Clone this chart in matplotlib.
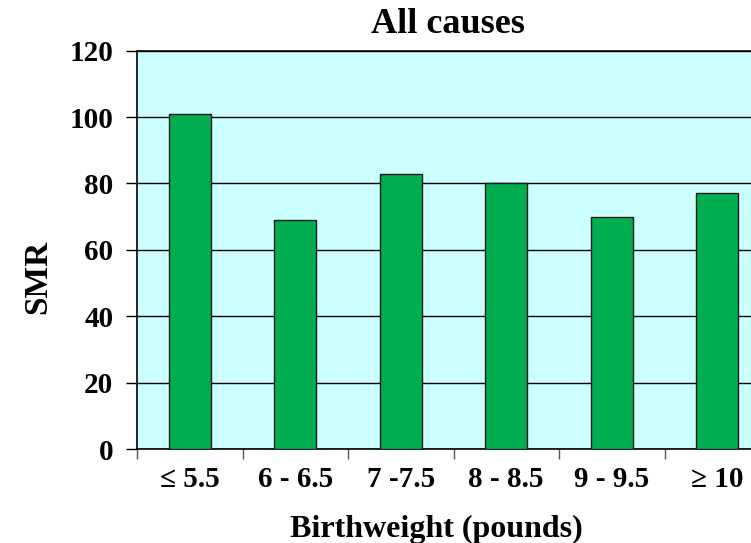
import matplotlib
matplotlib.use("Agg")
import matplotlib.pyplot as plt
import numpy as np

categories = ["\u2264 5.5", "6 - 6.5", "7 -7.5", "8 - 8.5", "9 - 9.5", "\u2265 10"]
smr = [101, 69, 83, 80, 70, 77]
yticks = [0, 20, 40, 60, 80, 100, 120]

plt.rcParams["font.family"] = ["Liberation Serif", "DejaVu Serif"]
plt.rcParams["font.weight"] = "bold"

W, H = 751, 543
fig = plt.figure(figsize=(W / 100, H / 100), dpi=100)
left, right, top, bottom = 137, 770, 50.7, 449
ax = fig.add_axes([left / W, (H - bottom) / H, (right - left) / W, (bottom - top) / H])
ax.set_facecolor("#CCFFFF")

x = np.arange(len(categories))
ax.set_axisbelow(True)
ax.yaxis.grid(True, color="black", linewidth=1.0)
ax.bar(x, smr, width=0.4, color="#00AD50", edgecolor="#1a1a1a", linewidth=1.0, zorder=3)

ax.set_xlim(-0.5, len(categories) - 0.5)
ax.set_ylim(0, 120)
ax.set_yticks(yticks)
ax.set_yticklabels([str(v) for v in yticks], fontsize=21, fontweight="bold")

# ticks at the category boundaries, labels centred between them
ax.set_xticks(np.arange(len(categories) + 1) - 0.5)
ax.set_xticklabels([])
ax.set_xticks(x, minor=True)
ax.set_xticklabels(categories, minor=True, fontsize=21, fontweight="bold")
ax.tick_params(axis="x", which="major", direction="out", length=7, width=1, color="#555555")
ax.tick_params(axis="x", which="minor", length=0, pad=12.5)
ax.tick_params(axis="y", direction="out", length=8, width=1, pad=9)

for s in ax.spines.values():
    s.set_color("black")
    s.set_linewidth(1.2)

fig.text(448 / W, 1 - 33 / H, "All causes", ha="center", va="baseline", fontsize=26, fontweight="bold")
fig.text(436 / W, 1 - 537 / H, "Birthweight (pounds)", ha="center", va="baseline", fontsize=23, fontweight="bold")
fig.text(38 / W, 1 - 277 / H, "SMR", ha="center", va="center", rotation=90, fontsize=24, fontweight="bold")

fig.savefig("out.png", dpi=100, facecolor="white")
